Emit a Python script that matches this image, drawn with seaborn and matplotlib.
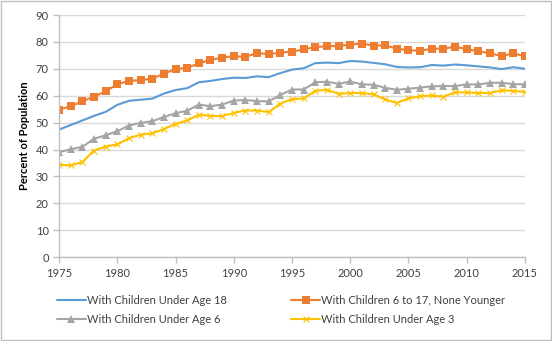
import matplotlib
matplotlib.use("Agg")
import matplotlib.pyplot as plt
import seaborn as sns
import pandas as pd
from matplotlib.patches import Rectangle

years = list(range(1975, 2016))
under18 = [47.4, 49.1, 50.8, 52.5, 54.0, 56.6, 58.1, 58.5, 58.9, 60.8,
           62.1, 62.8, 65.0, 65.5, 66.2, 66.7, 66.6, 67.2, 66.9, 68.4,
           69.7, 70.2, 72.1, 72.3, 72.1, 72.9, 72.7, 72.2, 71.7, 70.7,
           70.5, 70.6, 71.4, 71.2, 71.6, 71.3, 70.9, 70.5, 69.9, 70.6,
           70.0]
age6_17 = [54.8, 56.1, 57.9, 59.7, 61.6, 64.3, 65.5, 65.8, 66.3, 68.2,
           69.9, 70.4, 72.0, 73.3, 74.2, 74.7, 74.4, 75.9, 75.4, 76.0,
           76.4, 77.2, 78.1, 78.4, 78.5, 79.0, 79.4, 78.6, 78.7, 77.5,
           76.9, 76.7, 77.5, 77.5, 78.2, 77.3, 76.5, 75.8, 74.7, 75.8,
           74.6]
under6 = [39.0, 40.1, 41.0, 44.0, 45.3, 46.8, 48.9, 49.9, 50.5, 52.1,
          53.5, 54.4, 56.7, 56.1, 56.7, 58.2, 58.4, 58.0, 57.9, 60.3,
          62.3, 62.3, 65.0, 65.2, 64.4, 65.3, 64.2, 64.1, 62.9, 62.2,
          62.6, 63.0, 63.5, 63.6, 63.6, 64.2, 64.2, 64.8, 64.8, 64.3,
          64.2]
under3 = [34.3, 34.1, 35.3, 39.6, 41.1, 41.9, 44.2, 45.5, 46.0, 47.6,
          49.5, 50.8, 52.9, 52.5, 52.4, 53.6, 54.5, 54.5, 53.9, 57.1,
          58.7, 59.0, 61.8, 62.2, 60.7, 61.0, 61.0, 60.5, 58.6, 57.3,
          59.0, 59.8, 60.1, 59.6, 61.3, 61.2, 61.0, 61.0, 62.0, 61.8,
          61.4]

series_names = ["With Children Under Age 18", "With Children 6 to 17, None Younger",
                "With Children Under Age 6", "With Children Under Age 3"]
series_vals = [under18, age6_17, under6, under3]
colors = ["#5B9BD5", "#ED7D31", "#A5A5A5", "#FFC000"]
markers = [None, "s", "^", "x"]

rows = []
for name, vals in zip(series_names, series_vals):
    for y, v in zip(years, vals):
        rows.append({"Year": y, "Value": v, "Series": name})
df = pd.DataFrame(rows)

sns.set_theme(style="white")
plt.rcParams["font.family"] = ["Lato", "DejaVu Sans"]

fig = plt.figure(figsize=(5.52, 3.41), dpi=100)
ax = fig.add_axes([0.107, 0.246, 0.844, 0.710])

handles = []
for name, col, mk in zip(series_names, colors, markers):
    sub = df[df["Series"] == name]
    kw = dict(color=col, linewidth=1.5, ax=ax, legend=False)
    if mk is not None:
        kw.update(marker=mk, markersize=5.5 if mk != "x" else 5,
                  markeredgecolor=col, markerfacecolor=col,
                  markeredgewidth=0.8 if mk == "x" else 0)
    sns.lineplot(data=sub, x="Year", y="Value", **kw)
    handles.append(ax.lines[-1])

ax.set_xlim(1975, 2015)
ax.set_ylim(0, 90)
ax.set_xticks(range(1975, 2016, 5))
ax.set_yticks(range(0, 91, 10))
ax.yaxis.grid(True, color="#D9D9D9", linewidth=1)
ax.set_axisbelow(True)
for s in ["top", "right"]:
    ax.spines[s].set_visible(False)
for s in ["left", "bottom"]:
    ax.spines[s].set_color("#BFBFBF")
    ax.spines[s].set_linewidth(1)
ax.tick_params(axis="both", which="both", length=4, width=1, color="#BFBFBF",
               labelsize=8, labelcolor="#404040", direction="out", bottom=True, left=True)
ax.set_xlabel("")
ax.set_ylabel("Percent of Population", fontsize=8, fontweight="bold", color="#000000")

order = [0, 2, 1, 3]
fig.legend([handles[i] for i in order], [series_names[i] for i in order],
           loc="upper left", bbox_to_anchor=(0.085, 0.165),
           ncol=2, frameon=False, fontsize=8, handlelength=2.6, handletextpad=0.1,
           columnspacing=5.8, labelspacing=0.75, labelcolor="#404040")

fig.patches.append(Rectangle((0.001, 0.002), 0.997, 0.995, transform=fig.transFigure,
                             fill=False, edgecolor="#BFBFBF", linewidth=1))

fig.savefig("out.png", dpi=100)
